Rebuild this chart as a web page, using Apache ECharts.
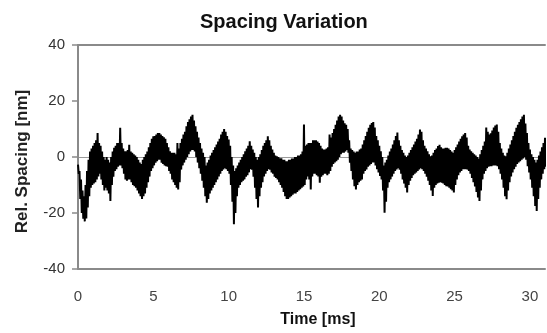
<!DOCTYPE html>
<html><head><meta charset="utf-8">
<script src="https://cdn.jsdelivr.net/npm/echarts@6/dist/echarts.min.js"></script>
<style>html,body{margin:0;padding:0;background:#fff}#c{width:547px;height:333px}</style>
</head><body><div id="c"></div>
<script>
const chartTitle = 'Spacing Variation';
const xAxisTitle = 'Time [ms]';
const yAxisTitle = 'Rel. Spacing [nm]';
const xRange = [0, 31];
const xTickStep = 5;
const yRange = [-40, 40];
const yTickStep = 20;
// sampling grid of the trace (ms)
const sampleStart = 0;
const sampleStep = 0.1;
// upper edge of the dense trace, one value per 0.1 ms
const upper = [
  -2.7, -5, -8, -12, -14, -10, -5, -1, 2, 3,
  4, 5, 6, 8.6, 5, 4, 2, 0, -1, 0,
  -1, -2, 0, 2, 3.3, 4, 5, 5, 10.4, 5,
  3, 2, 2, 2.5, 4.4, 2, 1.5, 1, 0.5, 0,
  -1, -2, -2.5, -1, 0, 1, 2, 3.5, 5, 6.5,
  7.4, 7.5, 8, 8.6, 8.6, 8, 7.5, 7, 6.5, 5,
  3.5, 2, 1.5, 1.5, 1.5, 1, 5, 3, 5, 6.5,
  8, 9, 11, 12.5, 13.5, 14.5, 15.1, 13, 11, 9,
  7, 5, 3, 1.5, 0, -3, -2, -1, 0.5, 1.5,
  2.5, 3.5, 4.5, 5.5, 6.5, 8, 9, 10, 9, 7.5,
  6.2, 4, 0, -3, -5, -4, -3, -2, -1, 0,
  1, 2, 3, 4, 5.6, 4, 2.7, 1.5, 0, -1,
  0, 1, 2.5, 4, 5, 6, 7.4, 6, 4, 2.7,
  1.5, 0.5, 0.3, 0, -0.5, -0.5, -1, -1, -1.5, -1.5,
  -1, -1, -0.5, -0.5, 0, 0, 0.5, 0.5, 1, 2,
  11.6, 4, 4.5, 5, 5, 5, 6, 6, 6, 5.5,
  5, 4, 3, 2.7, 2.7, 3, 3.5, 8, 7, 8.6,
  10, 11.5, 13, 14.5, 15.1, 14.5, 13, 12, 11.5, 10,
  6, 3, 2.5, 2, 1.5, 2, 2, 2.7, 3, 4.5,
  6, 7.5, 9, 10.4, 11.5, 12.1, 12.5, 10.5, 7.5, 6,
  4, 2, 0, -3, -2, -1, 0.5, 2, 3, 4.5,
  6, 7.5, 8.7, 6, 4, 2.5, 1.5, 0.5, 0, 0.5,
  1.5, 2.5, 3.5, 4.5, 5.5, 6.5, 8, 9.8, 9, 6,
  4, 3, 2, 1, 0.3, 0.5, 1.5, 2.5, 3, 3.9,
  4.4, 3.5, 3, 3, 3.3, 3.3, 3, 2.5, 2, 1.5,
  2.5, 3.5, 4.5, 5.5, 6.5, 7.4, 8, 8.6, 7, 4,
  2.7, 2, 1.5, 1, 0.5, 0, -0.5, 1, 2.5, 4,
  5.5, 10.5, 9, 8, 8.5, 9.5, 10.5, 11.2, 11.6, 9,
  5, 3, 1.5, 0.5, 0.3, 1.5, 3, 4.5, 6, 7.5,
  9, 10.4, 11.5, 12.5, 13.5, 14.5, 15.1, 12, 8.6, 5,
  2.7, 1, 0, -1, -2, -1, 0.5, 2, 3.5, 5,
  6.9, 6.5
];
// lower edge of the dense trace, one value per 0.1 ms (offset by half a step)
const lower = [
  -6, -15, -20, -22, -23, -22, -18, -14, -11, -10,
  -9.5, -9, -8, -7, -6, -8, -10, -12, -11, -12,
  -13, -15.7, -10, -7, -5, -4.4, -3.5, -3, -3, -4,
  -6, -8, -8.5, -8, -8, -9, -10, -10.4, -11, -12,
  -13, -14, -15, -14, -13, -11, -9, -7, -5, -4,
  -3, -2, -1.5, -1, -1, -2, -2.5, -3, -3.3, -3.5,
  -5, -6, -8, -9, -10, -11, -11.6, -9, -4.5, -3,
  -2, -1, 0, 1, 2, 2.5, 2.5, 2, 0, -2,
  -4, -6, -8.5, -11, -14, -16.3, -15, -13, -12, -11,
  -10, -9, -8, -7, -6, -5, -4.5, -4, -4.4, -5,
  -6, -10, -16, -24, -20, -14, -11, -10, -9, -8.5,
  -8, -7, -6.5, -5.5, -4.4, -4.5, -7, -11, -15, -18,
  -14, -11, -9, -7, -6, -5, -4.4, -4.5, -5.5, -6,
  -7, -7.5, -8, -9, -10, -11, -12.5, -14, -15, -15,
  -14.5, -14, -13.5, -13, -13, -12.5, -12, -11.5, -11, -10.5,
  -10, -8, -7, -8, -11.6, -7, -6, -6, -6.5, -7,
  -9.2, -7, -6.5, -6, -6, -6.5, -6, -5, -3.5, -2.5,
  -2, -1.5, -1, 0, 1, 1.5, 1.5, 2, 2.5, 1.5,
  -2, -5, -8, -10.4, -11.6, -10, -9, -8.5, -8, -6,
  -5, -4.5, -3.5, -3, -2.5, -2, -2, -3, -4.4, -5.5,
  -6.8, -8, -12, -19.9, -16, -11, -9, -8, -7, -6,
  -5, -4.5, -4, -4.5, -6, -8, -9.5, -11, -12.7, -10,
  -8.5, -7.5, -6.5, -6, -5.5, -5, -4.5, -4, -4.4, -5,
  -6, -7, -8.5, -10, -12, -13.9, -11, -10, -9.5, -9.2,
  -9, -9.2, -9.5, -10, -10.4, -10.5, -11, -11.5, -12, -12.7,
  -10, -8, -6.5, -5.5, -5, -4.4, -4.4, -4.4, -4.5, -5,
  -6, -7.5, -9, -10.5, -12.5, -14.5, -15.7, -12, -8, -6,
  -5, -4, -3.5, -3.3, -3.3, -3, -3, -3, -3.3, -4.4,
  -6, -8, -11, -14, -15.1, -12, -9, -7, -5.5, -4.4,
  -3.5, -2.5, -2, -1.5, -1, -0.5, 0, -1, -3.3, -5.5,
  -8, -11, -14, -17.5, -19.3, -15, -11, -8, -6, -4.4,
  -3.5, -2
];

const FONT = '"Liberation Sans", Arial, Helvetica, sans-serif';
const traceData = [];
for (let i = 0; i < upper.length; i++) {
  const t = sampleStart + i * sampleStep;
  traceData.push([+t.toFixed(3), upper[i]]);
  traceData.push([+(t + sampleStep / 2).toFixed(3), lower[i]]);
}

const chart = echarts.init(document.getElementById('c'), null, {renderer: 'canvas'});
chart.setOption({
  animation: false,
  backgroundColor: '#fff',
  title: {
    text: chartTitle, left: 200, top: 12, padding: 0,
    textStyle: {fontFamily: FONT, fontSize: 20, fontWeight: 'bold', color: '#111'}
  },
  grid: {left: 78, right: 2, top: 45, bottom: 63},
  xAxis: [{
    type: 'value', min: xRange[0], max: xRange[1], interval: xTickStep,
    axisLine: {show: true, onZero: false, lineStyle: {color: '#8a8a8a', width: 2}},
    axisTick: {show: false},
    splitLine: {show: false},
    axisLabel: {margin: 20, fontSize: 15, color: '#444', fontFamily: FONT, showMaxLabel: false},
    name: xAxisTitle, nameLocation: 'middle', nameGap: 43,
    nameTextStyle: {fontFamily: FONT, fontWeight: 'bold', fontSize: 16, color: '#111', padding: [0, 0, 0, 13]}
  }, {
    type: 'value', position: 'top', min: xRange[0], max: xRange[1], interval: xTickStep,
    axisLine: {show: true, onZero: false, lineStyle: {color: '#8a8a8a', width: 2}},
    axisTick: {show: false}, axisLabel: {show: false}, splitLine: {show: false}
  }],
  yAxis: {
    type: 'value', min: yRange[0], max: yRange[1], interval: yTickStep,
    axisLine: {show: true, onZero: false, lineStyle: {color: '#8a8a8a', width: 2}},
    axisTick: {show: true, length: 6, lineStyle: {color: '#8a8a8a', width: 1.5}},
    axisLabel: {margin: 13, fontSize: 15, color: '#333', fontFamily: FONT},
    splitLine: {show: true, lineStyle: {color: ['rgba(0,0,0,0)', 'rgba(0,0,0,0)', '#9a9a9a', 'rgba(0,0,0,0)', 'rgba(0,0,0,0)'], width: 1}},
    name: yAxisTitle, nameLocation: 'middle', nameGap: 47,
    nameTextStyle: {fontFamily: FONT, fontWeight: 'bold', fontSize: 17, color: '#222', padding: [0, 9, 0, 0]}
  },
  series: [{
    type: 'line', xAxisIndex: 0, data: traceData, symbol: 'none', showSymbol: false,
    sampling: null, lineStyle: {color: '#000', width: 2, join: 'miter', miterLimit: 2}, silent: true, z: 3
  }]
});
</script></body></html>
